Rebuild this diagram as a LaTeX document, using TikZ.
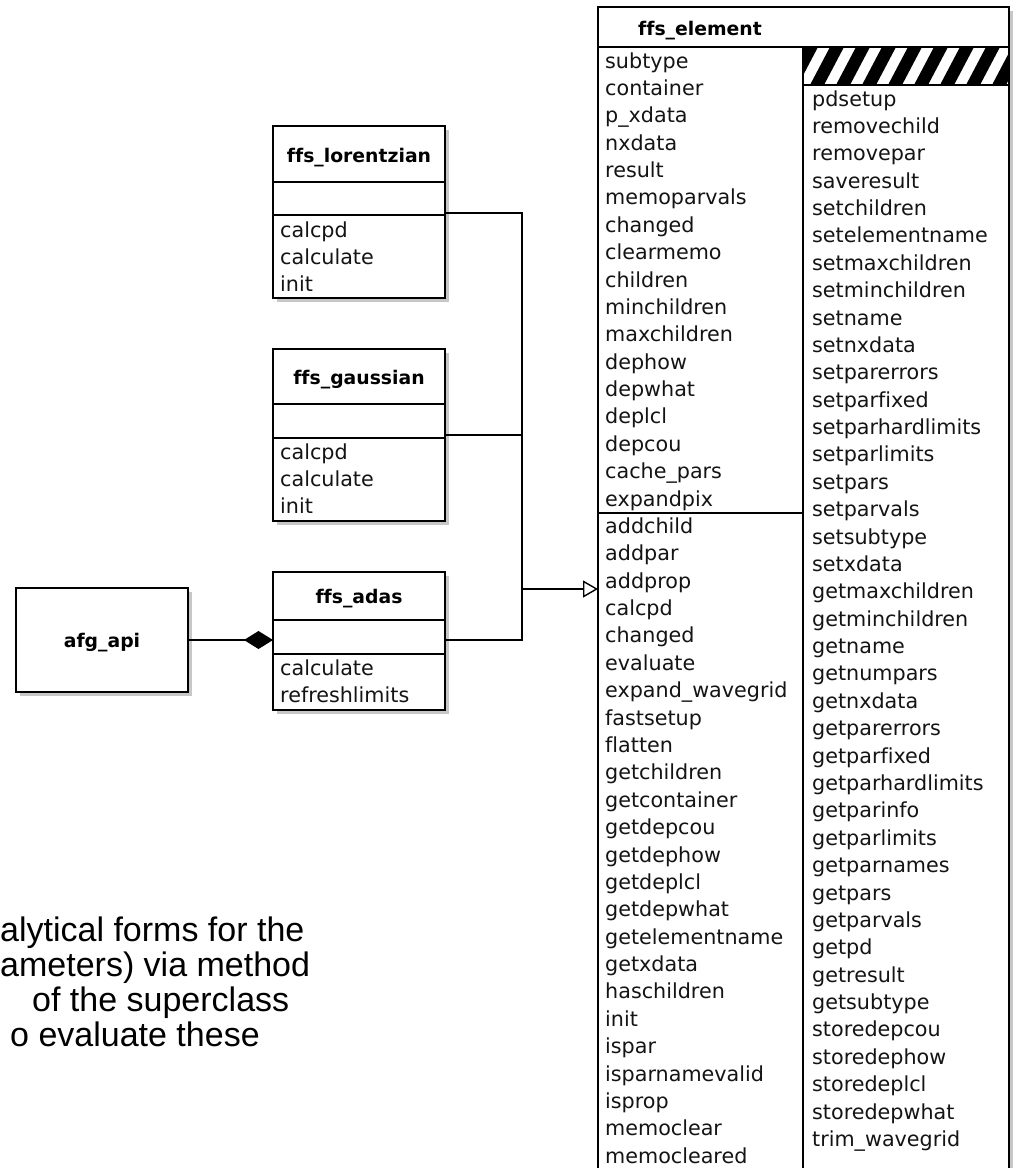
\documentclass[tikz,border=0pt]{standalone}
\usepackage{fontspec}
\setmainfont{DejaVu Sans}[Ligatures=NoCommon]
\newfontfamily\capfont{Liberation Sans}
\usetikzlibrary{arrows.meta,calc,shadows}
\tikzset{
  umlbox/.style={draw=black, line width=1.4pt, fill=white, inner sep=0pt, outer sep=0pt, anchor=north west,
    drop shadow={shadow xshift=4pt, shadow yshift=-4pt, fill=black!22, opacity=1}},
  sepline/.style={draw=black, line width=1.4pt},
  title/.style={font=\fontsize{18.8}{20}\selectfont\bfseries, anchor=base, inner sep=0pt},
  item/.style={font=\fontsize{20.7}{22}\selectfont, anchor=base west, inner sep=0pt, text=black!92},
  conn/.style={draw=black, line width=1.4pt},
  caption/.style={font=\capfont\fontsize{34}{36}\selectfont, anchor=base west, inner sep=0pt},
}
\begin{document}
\begin{tikzpicture}[x=1pt,y=-1pt]
\useasboundingbox (0,0) rectangle (1017,1168);
\clip (0,0) rectangle (1017,1168);

% ---------- ffs_element ----------
\node[umlbox, minimum width=411pt, minimum height=1200pt] (ele) at (598,7) {};
\node[title] (eleT) at (700,35) {ffs\_element};
\draw[sepline] ($(ele.north west)+(0,40)$) -- ($(ele.north east)+(0,40)$);
\draw[sepline] (803,47) -- (803,1180);
\draw[sepline] ($(ele.north west)+(0,506)$) -- (803,513);
\begin{scope}
  \clip (803,47) rectangle (1009,85);
  \foreach \k in {0,...,10} \fill[black] (784+26*\k,85) -- ++(14,0) -- ++(20,-38) -- ++(-14,0) -- cycle;
\end{scope}
\draw[sepline] (803,85) -- (1009,85);

\foreach \t [count=\i from 0] in {subtype,container,p\_xdata,nxdata,result,memoparvals,changed,clearmemo,children,minchildren,maxchildren,dephow,depwhat,deplcl,depcou,cache\_pars,expandpix,addchild,addpar,addprop,calcpd,changed,evaluate,expand\_wavegrid,fastsetup,flatten,getchildren,getcontainer,getdepcou,getdephow,getdeplcl,getdepwhat,getelementname,getxdata,haschildren,init,ispar,isparnamevalid,isprop,memoclear,memocleared}
  \node[item] (eL\i) at (605,68+27.38*\i) {\t};

\foreach \t [count=\i from 0] in {pdsetup,removechild,removepar,saveresult,setchildren,setelementname,setmaxchildren,setminchildren,setname,setnxdata,setparerrors,setparfixed,setparhardlimits,setparlimits,setpars,setparvals,setsubtype,setxdata,getmaxchildren,getminchildren,getname,getnumpars,getnxdata,getparerrors,getparfixed,getparhardlimits,getparinfo,getparlimits,getparnames,getpars,getparvals,getpd,getresult,getsubtype,storedepcou,storedephow,storedeplcl,storedepwhat,trim\_wavegrid}
  \node[item] (eR\i) at (812,106+27.38*\i) {\t};

% ---------- ffs_lorentzian ----------
\node[umlbox, minimum width=172pt, minimum height=172pt] (lor) at (273,126) {};
\node[title] (lorT) at (359,162) {ffs\_lorentzian};
\draw[sepline] ($(lor.north west)+(0,56)$) -- ($(lor.north east)+(0,56)$);
\draw[sepline] ($(lor.north west)+(0,89)$) -- ($(lor.north east)+(0,89)$);
\node[item] (lor1) at (280,237) {calcpd};
\node[item] (lor2) at (280,264) {calculate};
\node[item] (lor3) at (280,291) {init};

% ---------- ffs_gaussian ----------
\node[umlbox, minimum width=172pt, minimum height=172pt] (gau) at (273,349) {};
\node[title] (gauT) at (359,384) {ffs\_gaussian};
\draw[sepline] ($(gau.north west)+(0,55)$) -- ($(gau.north east)+(0,55)$);
\draw[sepline] ($(gau.north west)+(0,89)$) -- ($(gau.north east)+(0,89)$);
\node[item] (gau1) at (280,459) {calcpd};
\node[item] (gau2) at (280,486) {calculate};
\node[item] (gau3) at (280,513) {init};

% ---------- ffs_adas ----------
\node[umlbox, minimum width=172pt, minimum height=138pt] (ada) at (273,572) {};
\node[title] (adaT) at (359,603) {ffs\_adas};
\draw[sepline] ($(ada.north west)+(0,48)$) -- ($(ada.north east)+(0,48)$);
\draw[sepline] ($(ada.north west)+(0,82)$) -- ($(ada.north east)+(0,82)$);
\node[item] (ada1) at (280,675) {calculate};
\node[item] (ada2) at (280,702) {refreshlimits};

% ---------- afg_api ----------
\node[umlbox, minimum width=172pt, minimum height=104pt] (afg) at (16,588) {};
\node[title] (afgT) at (102,647) {afg\_api};

% ---------- connectors ----------
\coordinate (lorOut) at ($(lor.north east)+(0,87)$);
\coordinate (gauOut) at ($(gau.north east)+(0,86)$);
\coordinate (adaOut) at ($(ada.north east)+(0,68)$);
\coordinate (busTop) at (522,213);
\coordinate (busBot) at (522,640);
\coordinate (busMid) at (522,589);
\coordinate (eleIn) at ($(ele.north west)+(0,582)$);
\draw[conn] (lorOut) -- (busTop) -- (busBot) -- (adaOut);
\draw[conn] (gauOut) -- (gauOut -| busTop);
\draw[conn, -{Triangle[open, length=15pt, width=17pt]}] (busMid) -- (eleIn);
\draw[conn, -{Diamond[length=29pt, width=18pt]}] (afg.east) -- (afg.east -| ada.west);

% ---------- caption fragments ----------
\node[caption] (c1) at (0,941) {alytical forms for the};
\node[caption] (c2) at (0,976) {ameters) via method};
\node[caption] (c3) at (32,1011) {of the superclass};
\node[caption] (c4) at (10,1046) {o evaluate these};
\end{tikzpicture}
\end{document}
